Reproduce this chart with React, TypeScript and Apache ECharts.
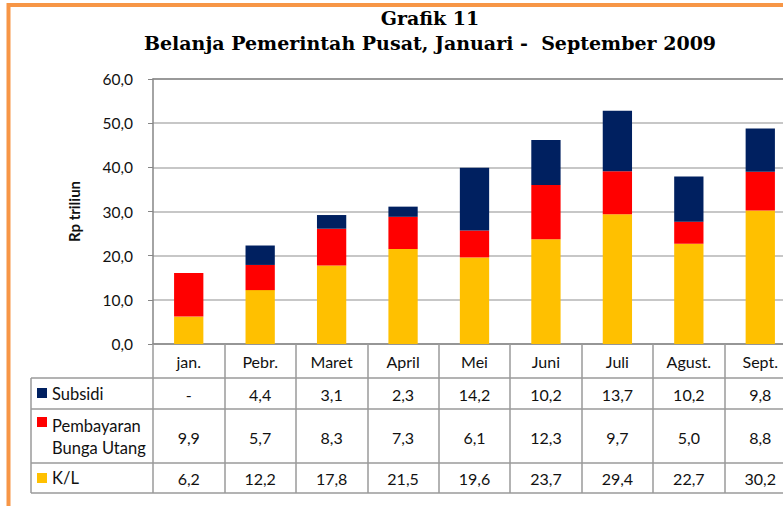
import React, { useEffect, useRef } from "react";
import * as echarts from "echarts";

const categories = ["jan.", "Pebr.", "Maret", "April", "Mei", "Juni", "Juli", "Agust.", "Sept."];
const subsidi: (number | null)[] = [null, 4.4, 3.1, 2.3, 14.2, 10.2, 13.7, 10.2, 9.8];
const bungaUtang = [9.9, 5.7, 8.3, 7.3, 6.1, 12.3, 9.7, 5.0, 8.8];
const kl = [6.2, 12.2, 17.8, 21.5, 19.6, 23.7, 29.4, 22.7, 30.2];
const seriesNames = ["Subsidi", "Pembayaran Bunga Utang", "K/L"];
const tableLabels = ["Subsidi", "Pembayaran\nBunga Utang", "K/L"];
const titleLine1 = "Grafik 11";
const titleLine2 = "Belanja Pemerintah Pusat, Januari -  September 2009";
const yAxisTitle = "Rp triliun";

const COLORS = { subsidi: "#002060", bunga: "#FF0000", kl: "#FFC000" };
const FONT = "Lato, 'Open Sans', sans-serif";
const fmt = (v: number | null) => (v == null ? "-" : v.toFixed(1).replace(".", ","));

const GRID = { left: 153, top: 79, width: 643, height: 265 };

export default function App() {
  const ref = useRef<HTMLDivElement>(null);
  useEffect(() => {
    if (!ref.current) return;
    const chart = echarts.init(ref.current, null, { renderer: "svg" });
    const base: any = {
      animation: false,
      backgroundColor: "#ffffff",
      grid: { ...GRID, containLabel: false },
      xAxis: [
        {
          type: "category",
          data: categories,
          position: "bottom",
          axisLine: { show: true, lineStyle: { color: "#868686", width: 1.5 } },
          axisTick: { show: true, length: 149, lineStyle: { color: "#9a9a9a", width: 1.5 } },
          axisLabel: { fontFamily: FONT, fontSize: 16, color: "#111", margin: 9 },
        },
        {
          type: "category",
          data: categories,
          position: "top",
          axisLine: { show: true, lineStyle: { color: "#8a8a8a", width: 1.5 } },
          axisTick: { show: false },
          axisLabel: { show: false },
        },
      ],
      yAxis: {
        type: "value",
        min: 0,
        max: 60,
        interval: 10,
        name: yAxisTitle,
        nameLocation: "middle",
        nameGap: 72,
        nameTextStyle: { fontFamily: FONT, fontSize: 15, fontWeight: "bold", color: "#111" },
        axisLine: { show: true, lineStyle: { color: "#868686", width: 1.5 } },
        axisTick: { show: true, length: 5, lineStyle: { color: "#868686" } },
        axisLabel: {
          fontFamily: FONT,
          fontSize: 15.5,
          color: "#111",
          margin: 20,
          formatter: (v: number) => v.toFixed(1).replace(".", ","),
        },
        splitLine: { show: true, lineStyle: { color: "#b4b4b4", width: 1.5 } },
      },
      series: [
        { name: seriesNames[2], type: "bar", stack: "t", data: kl, itemStyle: { color: COLORS.kl }, barCategoryGap: "59%" },
        { name: seriesNames[1], type: "bar", stack: "t", data: bungaUtang, itemStyle: { color: COLORS.bunga } },
        { name: seriesNames[0], type: "bar", stack: "t", data: subsidi, itemStyle: { color: COLORS.subsidi } },
      ],
    };
    chart.setOption(base);

    const xs = categories.map((c) => chart.convertToPixel({ xAxisIndex: 0 }, c) as number);
    const rows = [
      { label: tableLabels[0], values: subsidi, color: COLORS.subsidi, cy: 394, sq: 388 },
      { label: tableLabels[1], values: bungaUtang, color: COLORS.bunga, cy: 437, sq: 417 },
      { label: tableLabels[2], values: kl, color: COLORS.kl, cy: 478, sq: 473 },
    ];
    const graphics: any[] = [];
    graphics.push({
      type: "rect",
      shape: { x: 8.5, y: 5, width: 1200, height: 1000 },
      style: { fill: "none", stroke: "#F79646", lineWidth: 4 },
      z: 100,
    });
    graphics.push({
      type: "text",
      x: 430,
      y: 18,
      style: { text: titleLine1, fontFamily: "'DejaVu Serif', serif", fontWeight: "bold", fontSize: 19, fill: "#000", align: "center", verticalAlign: "middle" },
    });
    graphics.push({
      type: "text",
      x: 430,
      y: 43,
      style: { text: titleLine2, fontFamily: "'DejaVu Serif', serif", fontWeight: "bold", fontSize: 19, fill: "#000", align: "center", verticalAlign: "middle" },
    });
    [378, 409, 463, 493].forEach((y) => {
      graphics.push({ type: "line", shape: { x1: 31, y1: y, x2: 900, y2: y }, style: { stroke: "#9a9a9a", lineWidth: 1.5 } });
    });
    graphics.push({ type: "line", shape: { x1: 31, y1: 378, x2: 31, y2: 493 }, style: { stroke: "#9a9a9a", lineWidth: 1.5 } });
    rows.forEach((r) => {
      graphics.push({ type: "rect", shape: { x: 37, y: r.sq, width: 10, height: 10 }, style: { fill: r.color } });
      graphics.push({
        type: "text",
        x: 52,
        y: r.cy,
        style: { text: r.label, fontFamily: FONT, fontSize: 16.5, fill: "#111", align: "left", verticalAlign: "middle", lineHeight: 22 },
      });
      r.values.forEach((v, i) => {
        graphics.push({
          type: "text",
          x: xs[i],
          y: r.cy,
          style: { text: fmt(v as number | null), fontFamily: FONT, fontSize: 16, fill: "#111", align: "center", verticalAlign: "middle" },
        });
      });
    });
    chart.setOption({ graphic: graphics });
    return () => chart.dispose();
  }, []);
  return (
    <div style={{ position: "fixed", left: 0, top: 0, width: 783, height: 506, overflow: "hidden", background: "#fff" }}>
      <div ref={ref} style={{ width: 810, height: 506 }} />
    </div>
  );
}
